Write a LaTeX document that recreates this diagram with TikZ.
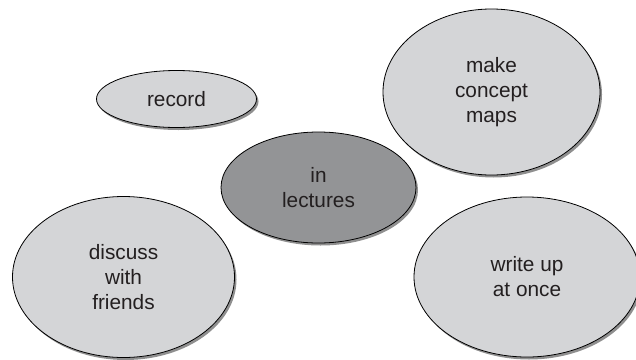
\documentclass[tikz,border=0pt]{standalone}
\usepackage{fontspec}
\setmainfont{Liberation Sans}
\usetikzlibrary{shapes.geometric,shadows}
\definecolor{lightfill}{HTML}{D4D5D7}
\definecolor{darkfill}{HTML}{939496}
\definecolor{inktext}{HTML}{231F20}
\tikzset{
  bubble/.style={ellipse, draw=black, line width=0.8pt, inner sep=0pt,
    align=center, text=inktext,
    font=\fontsize{20.8}{25}\selectfont,
    drop shadow={shadow xshift=2pt, shadow yshift=-2.5pt, fill=black!55, opacity=0.8}},
  lightbubble/.style={bubble, fill=lightfill},
  darkbubble/.style={bubble, fill=darkfill}
}
\begin{document}
\begin{tikzpicture}[x=1pt, y=-1pt]
  \useasboundingbox (0,0) rectangle (636,359);
  \node[lightbubble, minimum width=160pt, minimum height=57pt] (record) at (176.5,99) {record};
  \node[lightbubble, minimum width=217pt, minimum height=166pt] (maps) at (491.5,92) {make\\concept\\maps};
  \node[darkbubble, minimum width=195pt, minimum height=111pt] (lectures) at (318.5,187.5) {in\\lectures};
  \node[lightbubble, minimum width=222pt, minimum height=161pt] (discuss) at (123.5,277) {discuss\\with\\friends};
  \node[lightbubble, minimum width=226pt, minimum height=160pt] (writeup) at (527,277) {write up\\at once};
\end{tikzpicture}
\end{document}
